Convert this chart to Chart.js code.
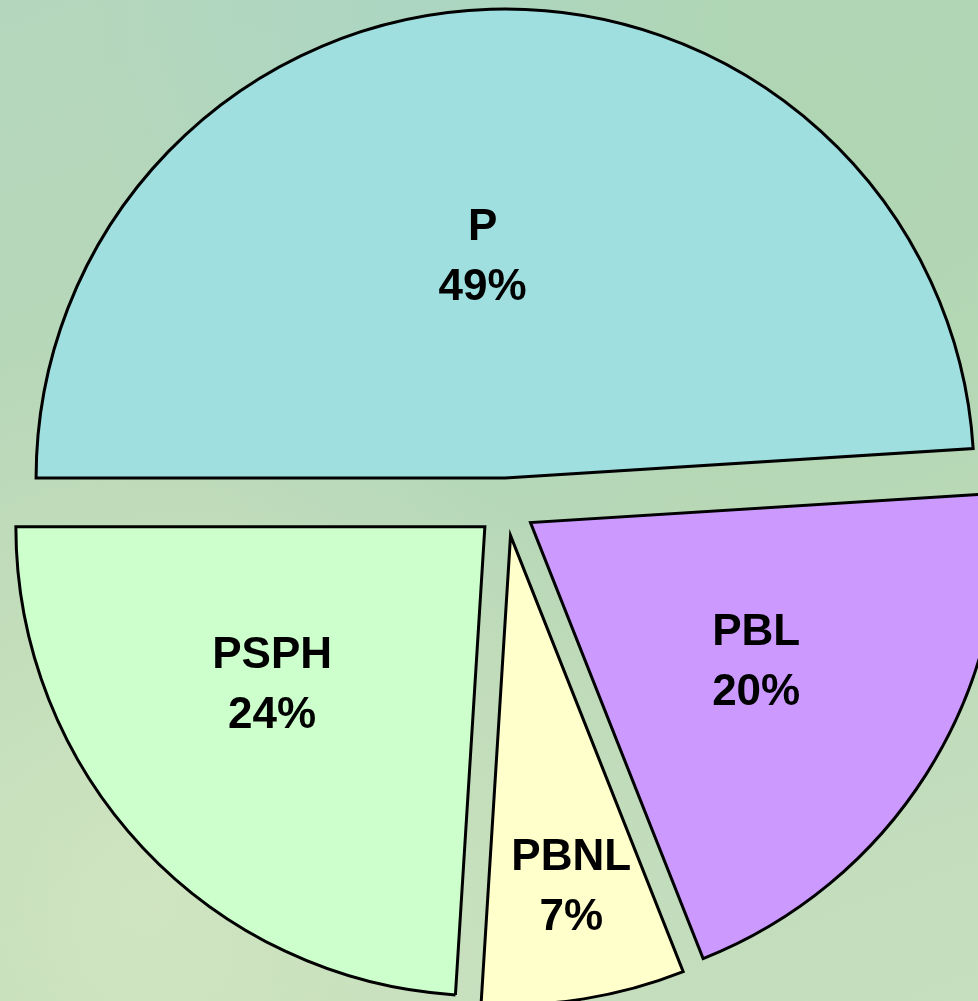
<!DOCTYPE html>
<html lang="fr">
<head>
  <meta charset="UTF-8">
  <title>Répartition P / PBL / PBNL / PSPH</title>
  <script src="https://cdn.jsdelivr.net/npm/chart.js"></script>
  <style>
    html, body {
      margin: 0;
      padding: 0;
      width: 978px;
      height: 1001px;
      overflow: hidden;
    }
    body {
      background:
        radial-gradient(ellipse at 15% 90%, rgba(215, 232, 195, 0.7), rgba(215, 232, 195, 0) 45%),
        radial-gradient(ellipse at 85% 10%, rgba(170, 212, 175, 0.6), rgba(170, 212, 175, 0) 50%),
        radial-gradient(ellipse at 45% 5%, rgba(165, 215, 205, 0.6), rgba(165, 215, 205, 0) 45%),
        linear-gradient(160deg, #b4d6bc 0%, #b9d8b6 50%, #c6dfbf 100%);
    }
    canvas { display: block; }
  </style>
</head>
<body>
  <canvas id="pie" width="978" height="1001"></canvas>

  <script>
    const categories = ['P', 'PBL', 'PBNL', 'PSPH'];
    const shares = [49, 20, 7, 24];
    const sliceColors = ['#a0dfe0', '#cc99ff', '#ffffcc', '#ccffcc'];

    // éclatement des parts (déplacement le long de la bissectrice)
    const explodePlugin = {
      id: 'explode',
      afterDatasetUpdate(chart, args, opts) {
        const ca = chart.chartArea;
        const cx = (ca.left + ca.right) / 2;
        const cy = (ca.top + ca.bottom) / 2;
        chart.getDatasetMeta(args.index).data.forEach(arc => {
          const mid = (arc.startAngle + arc.endAngle) / 2;
          arc.x = cx + Math.cos(mid) * opts.distance;
          arc.y = cy + Math.sin(mid) * opts.distance;
        });
      }
    };

    // étiquettes "nom + pourcentage" dans chaque part
    const labelPlugin = {
      id: 'sliceLabels',
      afterDatasetsDraw(chart, args, opts) {
        const ctx = chart.ctx;
        const meta = chart.getDatasetMeta(0);
        ctx.save();
        ctx.font = 'bold 44px "Liberation Sans", Arial, sans-serif';
        ctx.fillStyle = '#000';
        ctx.textAlign = 'center';
        ctx.textBaseline = 'middle';
        meta.data.forEach((arc, i) => {
          const mid = (arc.startAngle + arc.endAngle) / 2 + opts.angleShift[i] * Math.PI / 180;
          const r = arc.outerRadius * opts.radiusFrac[i];
          const x = arc.x + Math.cos(mid) * r;
          const y = arc.y + Math.sin(mid) * r;
          ctx.fillText(categories[i], x, y - 29);
          ctx.fillText(shares[i] + '%', x, y + 31);
        });
        ctx.restore();
      }
    };

    new Chart(document.getElementById('pie'), {
      type: 'pie',
      data: {
        labels: categories,
        datasets: [{
          data: shares,
          backgroundColor: sliceColors,
          borderColor: '#000',
          borderWidth: 3,
          borderJoinStyle: 'miter',
          clip: false
        }]
      },
      options: {
        responsive: false,
        animation: false,
        rotation: 270,
        radius: 469,
        layout: { padding: { left: 34, top: 13 } },
        plugins: {
          legend: { display: false },
          tooltip: { enabled: false },
          explode: { distance: 29 },
          sliceLabels: {
            radiusFrac: [0.475, 0.565, 0.76, 0.565],
            angleShift: [-4, -0.8, -0.8, 6.6]
          }
        }
      },
      plugins: [explodePlugin, labelPlugin]
    });
  </script>
</body>
</html>
